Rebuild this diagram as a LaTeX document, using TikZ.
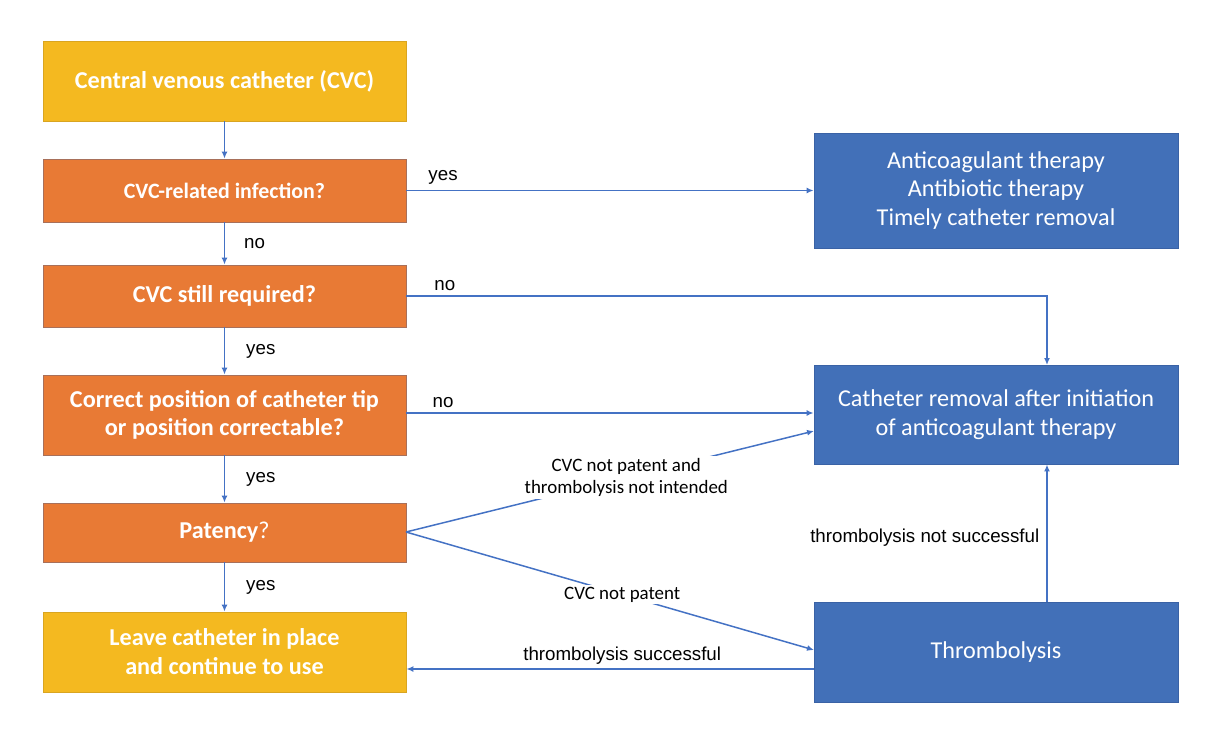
\documentclass[tikz,border=0pt]{standalone}
\usepackage{fontspec}
\setmainfont{Carlito}
\newfontfamily\arialfont{Liberation Sans}
\usetikzlibrary{arrows.meta}
\definecolor{cgold}{HTML}{F4B920}
\definecolor{cgoldb}{HTML}{D9A521}
\definecolor{corange}{HTML}{E87A35}
\definecolor{corangeb}{HTML}{A8705A}
\definecolor{cblue}{HTML}{4270B8}
\definecolor{cblueb}{HTML}{3A62A5}
\definecolor{carrow}{HTML}{4472C4}
\tikzset{
  box/.style={rectangle, inner sep=0pt, align=center, text=white, line width=0.8pt,
    font=\fontsize{24.3}{29}\selectfont},
  goldbox/.style={box, fill=cgold, draw=cgoldb, font=\fontsize{24.3}{29}\selectfont\bfseries},
  orangebox/.style={box, fill=corange, draw=corangeb, font=\fontsize{24.3}{28}\selectfont\bfseries},
  bluebox/.style={box, fill=cblue, draw=cblueb},
  conn/.style={draw=carrow, line width=1.5pt, -{Latex[length=7pt,width=6pt]}},
  lab/.style={font=\arialfont\fontsize{18.8}{22}\selectfont, text=black, inner sep=1pt},
  clab/.style={font=\fontsize{19}{23}\selectfont, text=black, align=center, fill=white, inner sep=2pt},
}
\begin{document}
\begin{tikzpicture}[x=1bp,y=-1bp]
\useasboundingbox (0,0) rectangle (1217,733);
% left column
\node[goldbox, minimum width=363bp, minimum height=80bp] (n1) at (224.5,81) {Central venous catheter (CVC)};
\node[orangebox, minimum width=363bp, minimum height=63bp, font=\fontsize{22}{28}\selectfont\bfseries] (n2) at (224.5,190.5) {CVC-related infection?};
\node[orangebox, minimum width=363bp, minimum height=62bp] (n3) at (224.5,296) {CVC still required?};
\node[orangebox, minimum width=363bp, minimum height=80bp] (n4) at (224.5,415) {Correct position of catheter tip\\or position correctable?};
\node[orangebox, minimum width=363bp, minimum height=59bp] (n5) at (224.5,532.5) {Patency\mdseries ?};
\node[goldbox, minimum width=363bp, minimum height=80bp] (n6) at (224.5,652) {Leave catheter in place\\and continue to use};
% right column
\node[bluebox, minimum width=364bp, minimum height=115bp] (r1) at (996,190.5) {Anticoagulant therapy\\Antibiotic therapy\\Timely catheter removal};
\node[bluebox, minimum width=364bp, minimum height=99bp] (r2) at (996,414.5) {Catheter removal after initiation\\of anticoagulant therapy};
\node[bluebox, minimum width=364bp, minimum height=100bp] (r3) at (996,652) {Thrombolysis};
% coordinates
\coordinate (c3) at (1047,296);
\coordinate (r2top) at (1047,365);
\coordinate (r2bot) at (1047,464.5);
\coordinate (r3top) at (1047,602);
\coordinate (p5) at (406,532);
\coordinate (r2in) at (814,431);
\coordinate (r3in) at (814,650);
% vertical chain
\draw[conn] (n1) -- (n2);
\draw[conn] (n2) -- node[lab, right, pos=0.5, xshift=18bp] (lno1) {no} (n3);
\draw[conn] (n3) -- node[lab, right, pos=0.5, xshift=20bp] (lyes1) {yes} (n4);
\draw[conn] (n4) -- node[lab, right, pos=0.5, xshift=20bp] (lyes2) {yes} (n5);
\draw[conn] (n5) -- node[lab, right, pos=0.5, xshift=20bp] (lyes3) {yes} (n6);
% horizontal
\draw[conn] (n2.east) -- node[lab, above, pos=0.09, yshift=4bp] (lyes0) {yes} (r1.west);
\draw[conn] (n3.east) -- node[lab, above, pos=0.06, yshift=4bp] (lno2) {no} (c3) -- (r2top);
\draw[conn] (n4.east |- 0,413) -- node[lab, above, pos=0.09, yshift=4bp] (lno3) {no} (r2.west |- 0,413);
\draw[conn] (p5) -- node[clab, pos=0.54] (lnp1) {CVC not patent and\\thrombolysis not intended} (r2in);
\draw[conn] (p5) -- node[clab, pos=0.53] (lnp2) {CVC not patent} (r3in);
\draw[conn] (r3.west |- 0,669) -- node[lab, above, pos=0.47, yshift=3bp] (lts) {thrombolysis successful} (n6.east |- 0,669);
\draw[conn] (r3top) -- node[lab, left, pos=0.47, xshift=-6bp] (ltns) {thrombolysis not successful} (r2bot);
\end{tikzpicture}
\end{document}
